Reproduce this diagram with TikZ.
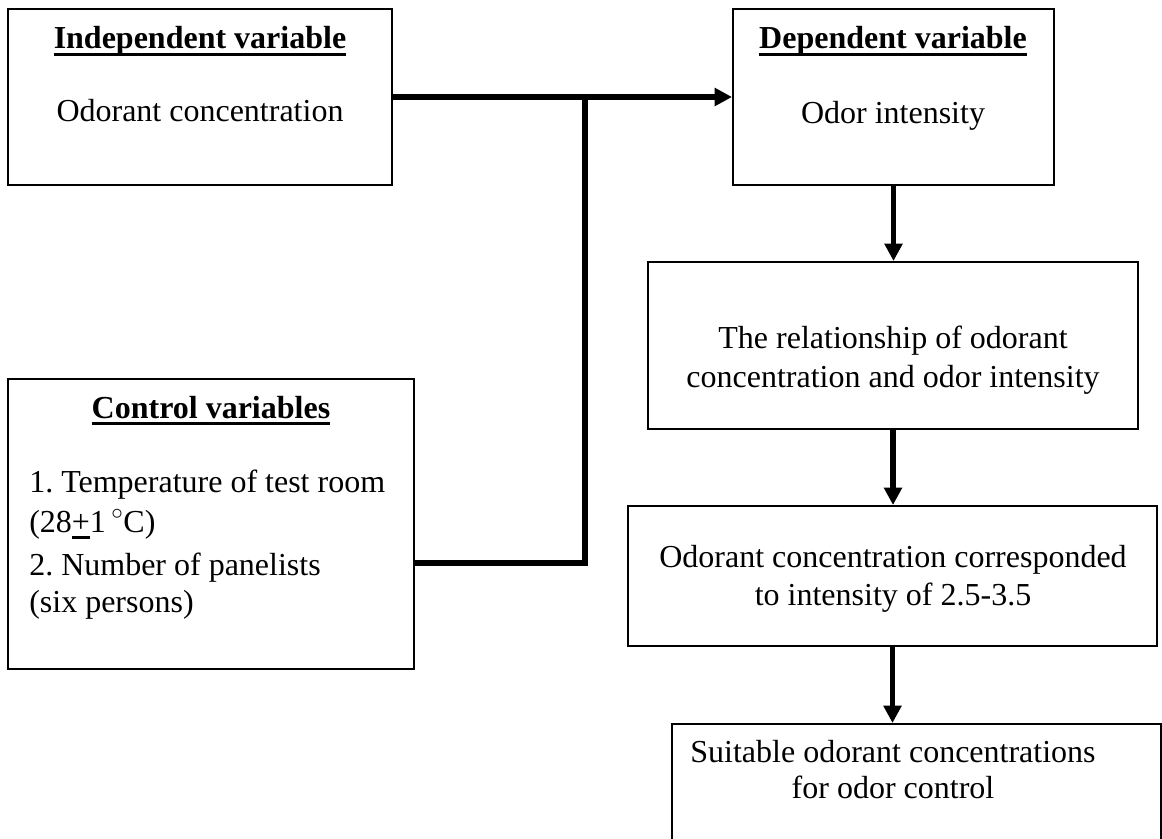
\documentclass[tikz,border=0pt]{standalone}
\usepackage{fontspec}
\setmainfont{Liberation Serif}
\usetikzlibrary{arrows.meta,fit}
\frenchspacing
% underline at a fixed depth, like a word processor does
\newcommand\ulin[1]{\leavevmode\setbox0\hbox{#1}\rlap{\rule[-0.22em]{\wd0}{0.08em}}\box0\relax}
\begin{document}
\begin{tikzpicture}[x=0.75pt,y=-0.75pt,
  box/.style={draw,line width=1.5pt,inner sep=0pt},
  txt/.style={anchor=base,inner sep=0pt,font=\fontsize{24}{28}\selectfont},
  ttl/.style={txt,font=\fontsize{24}{28}\selectfont\bfseries},
  lefttxt/.style={txt,anchor=base west},
  link/.style={line width=4pt},
  flow/.style={link,-{Triangle[length=13pt,width=13pt]}}]
\clip (0,0) rectangle (1162,838);

% boxes
\node[box,fit={(8,9) (392,185)}]      (indep) {};
\node[box,fit={(733,9) (1054,185)}]   (dep)   {};
\node[box,fit={(648,262) (1138,429)}] (rel)   {};
\node[box,fit={(8,379) (414,669)}]    (ctrl)  {};
\node[box,fit={(628,506) (1157,646)}] (corr)  {};
\node[box,fit={(672,724) (1161,850)}] (suit)  {};

% texts
\node[ttl] (indepT) at (200,49)  {\ulin{Independent variable}};
\node[txt] (indepA) at (200,122) {Odorant concentration};

\node[ttl] (depT) at (893,49)  {\ulin{Dependent variable}};
\node[txt] (depA) at (893,123) {Odor intensity};

\node[txt] (relA) at (893,348) {The relationship of odorant};
\node[txt] (relB) at (893,387) {concentration and odor intensity};

\node[ttl] (ctrlT) at (211,418) {\ulin{Control variables}};
\node[lefttxt] (ctrlA) at (29,492) {1. Temperature of test room};
\node[lefttxt] (ctrlB) at (29,532) {(28\ulin{+}1\,$^{\circ}$C)};
\node[lefttxt] (ctrlC) at (29,575) {2. Number of panelists};
\node[lefttxt] (ctrlD) at (29,612) {(six persons)};

\node[txt] (corrA) at (893,567) {Odorant concentration corresponded};
\node[txt] (corrB) at (893,605) {to intensity of 2.5-3.5};

\node[txt] (suitA) at (893,762) {Suitable odorant concentrations};
\node[txt] (suitB) at (893,798) {for odor control};

% connectors
\coordinate (join) at (585,97);
\coordinate (foot) at (585,563);
\draw[flow] (indep.east) -- (dep.west);
\draw[link] (ctrl.east |- foot) -- (foot) -- (join);
\draw[flow] (dep.south) -- (dep.south |- rel.north);
\draw[flow] (rel.south) -- (rel.south |- corr.north);
\draw[flow] (corr.south) -- (corr.south |- suit.north);
\end{tikzpicture}
\end{document}
